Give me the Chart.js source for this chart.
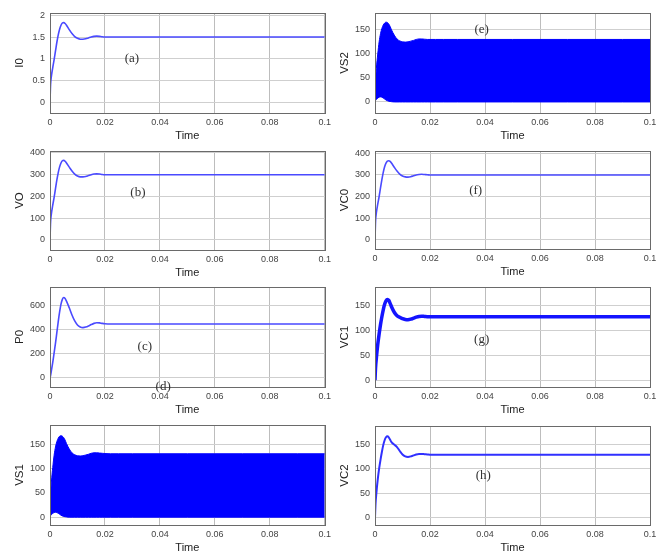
<!DOCTYPE html>
<html>
<head>
<meta charset="utf-8">
<script src="https://cdn.jsdelivr.net/npm/chart.js@4.4.1/dist/chart.umd.min.js"></script>
<style>
  body { margin: 0; background: #fff; }
  #wrap { position: relative; width: 665px; height: 552px; overflow: hidden; background: #fff; }
  #wrap canvas { position: absolute; }
</style>
</head>
<body>
<div id="wrap"></div>
<script>
// simulation time base (s)
const time = [0, 0.0002, 0.0005, 0.001, 0.0015, 0.002, 0.0025, 0.003, 0.0035, 0.004,
  0.0045, 0.005, 0.0055, 0.006, 0.007, 0.008, 0.009, 0.010, 0.011, 0.012,
  0.013, 0.014, 0.015, 0.016, 0.017, 0.018, 0.019, 0.020, 0.022, 0.025,
  0.03, 0.04, 0.05, 0.06, 0.07, 0.08, 0.09, 0.1];
const xTicks = [0, 0.02, 0.04, 0.06, 0.08, 0.1];

// (a) output current
const i0 = [0, 0.40, 0.60, 0.80, 0.98, 1.18, 1.38, 1.55, 1.68, 1.77,
  1.82, 1.83, 1.81, 1.77, 1.67, 1.58, 1.51, 1.47, 1.45, 1.45,
  1.46, 1.48, 1.50, 1.515, 1.52, 1.515, 1.505, 1.50, 1.50, 1.50,
  1.50, 1.50, 1.50, 1.50, 1.50, 1.50, 1.50, 1.50];
// (b) output voltage
const vo = [0, 80, 120, 160, 196, 236, 276, 310, 336, 354,
  364, 366, 362, 354, 335, 317, 303, 294, 290, 290,
  292, 296, 300, 303, 304, 303, 301, 300, 300, 300,
  300, 300, 300, 300, 300, 300, 300, 300];
// (c) output power
const p0 = [0, 20, 60, 130, 210, 290, 380, 470, 550, 615,
  655, 670, 662, 640, 585, 525, 475, 442, 425, 420,
  424, 433, 445, 455, 460, 459, 455, 452, 450, 450,
  450, 450, 450, 450, 450, 450, 450, 450];
// (d) switch 1 voltage envelope
const vs1Top = [25, 45, 72, 102, 127, 144, 155, 162, 166, 167,
  166, 163, 158, 151, 140, 132, 128, 126, 125.5, 126,
  127.5, 129, 131, 132, 132, 131.5, 131, 130.5, 130, 130,
  130, 130, 130, 130, 130, 130, 130, 130];
const vs1Bot = [0, 3, 5, 8, 9.5, 10, 9.5, 8, 6, 4,
  2.5, 1.5, 1, 0.5, 0, 0, 0, 0, 0, 0,
  0, 0, 0, 0, 0, 0, 0, 0, 0, 0,
  0, 0, 0, 0, 0, 0, 0, 0];
// (e) switch 2 voltage envelope
const vs2Top = [25, 42, 70, 100, 125, 142, 153, 160, 164, 166,
  165, 162, 157, 150, 139, 131, 127, 125, 124.5, 125,
  126.5, 128, 130, 131, 131, 130.5, 130, 130, 130, 130,
  130, 130, 130, 130, 130, 130, 130, 130];
const vs2Bot = [0, 3, 5, 8, 10, 10.5, 10, 8, 6, 4,
  2.5, 1.5, 1, 0.5, 0, 0, 0, 0, 0, 0,
  0, 0, 0, 0, 0, 0, 0, 0, 0, 0,
  0, 0, 0, 0, 0, 0, 0, 0];
// (f) output capacitor voltage
const vc0 = [0, 85, 125, 165, 200, 240, 278, 312, 338, 355,
  364, 366, 363, 355, 336, 318, 304, 295, 291, 290,
  292, 296, 300, 302, 303, 302, 301, 300, 300, 300,
  300, 300, 300, 300, 300, 300, 300, 300];
// (g) capacitor 1 voltage
const vc1 = [0, 25, 45, 72, 93, 112, 128, 142, 153, 160,
  163, 161, 155, 148, 137, 130, 127, 124, 122.5, 122,
  123, 125, 127, 128.5, 129, 128.5, 128, 128, 128, 128,
  128, 128, 128, 128, 128, 128, 128, 128];
// (h) capacitor 2 voltage
const vc2 = [0, 28, 50, 78, 100, 118, 134, 148, 158, 164,
  166, 164, 159, 154, 149, 144, 136, 129, 125, 124,
  125, 127, 129, 130, 130, 129.5, 129, 128.5, 128.5, 128.5,
  128.5, 128.5, 128.5, 128.5, 128.5, 128.5, 128.5, 128.5];

const yTicksI0 = [0, 0.5, 1, 1.5, 2];
const yTicksV400 = [0, 100, 200, 300, 400];
const yTicksP0 = [0, 200, 400, 600];
const yTicks150 = [0, 50, 100, 150];

function pts(ys) {
  return time.map((t, i) => ({ x: t, y: ys[i] }));
}

function lineSet(ys, color, width) {
  return {
    data: pts(ys), borderColor: color, borderWidth: width, pointRadius: 0,
    cubicInterpolationMode: 'monotone', fill: false
  };
}

function bandSets(top, bot) {
  return [
    { data: pts(top), borderColor: '#0000ff', backgroundColor: '#0000ff', borderWidth: 1,
      pointRadius: 0, cubicInterpolationMode: 'monotone', fill: '+1' },
    { data: pts(bot), borderColor: '#0000ff', borderWidth: 1, pointRadius: 0,
      cubicInterpolationMode: 'monotone', fill: false }
  ];
}

const panels = [
  { col: 0, top: 13, h: 100, title: 'I0', min: -0.24, max: 2.05, ticks: yTicksI0,
    sets: [lineSet(i0, '#4a4aff', 1.6)], tags: [{ t: '(a)', x: 0.0298, y: 1.0 }] },
  { col: 0, top: 151, h: 99, title: 'VO', min: -46, max: 409, ticks: yTicksV400,
    sets: [lineSet(vo, '#4a4aff', 1.6)], tags: [{ t: '(b)', x: 0.032, y: 220 }] },
  { col: 0, top: 287, h: 100, title: 'P0', min: -75, max: 758, ticks: yTicksP0,
    sets: [lineSet(p0, '#4a4aff', 1.6)],
    tags: [{ t: '(c)', x: 0.0345, y: 258 }, { t: '(d)', x: 0.0412, y: -72 }] },
  { col: 0, top: 425, h: 100, title: 'VS1', min: -16, max: 189, ticks: yTicks150,
    sets: bandSets(vs1Top, vs1Bot), tags: [] },
  { col: 1, top: 13, h: 100, title: 'VS2', min: -23, max: 185, ticks: yTicks150,
    sets: bandSets(vs2Top, vs2Bot), tags: [{ t: '(e)', x: 0.0388, y: 150 }] },
  { col: 1, top: 151, h: 98, title: 'VC0', min: -43, max: 411, ticks: yTicksV400,
    sets: [lineSet(vc0, '#4a4aff', 1.6)], tags: [{ t: '(f)', x: 0.0366, y: 227 }] },
  { col: 1, top: 287, h: 100, title: 'VC1', min: -14, max: 188, ticks: yTicks150,
    sets: [lineSet(vc1, '#1414ff', 3.5)], tags: [{ t: '(g)', x: 0.0388, y: 82 }] },
  { col: 1, top: 426, h: 99, title: 'VC2', min: -15, max: 187, ticks: yTicks150,
    sets: [lineSet(vc2, '#3030ff', 2)], tags: [{ t: '(h)', x: 0.0394, y: 86 }] }
];

// matlab-style full box around the plot area
const boxPlugin = {
  id: 'box',
  afterDatasetsDraw(chart) {
    const a = chart.chartArea, ctx = chart.ctx;
    ctx.save();
    ctx.strokeStyle = '#6a6a6a';
    ctx.lineWidth = 1;
    ctx.strokeRect(Math.round(a.left) + 0.5, Math.round(a.top) + 0.5,
      Math.round(a.right - a.left), Math.round(a.bottom - a.top));
    ctx.restore();
  }
};

// panel letters placed at data coordinates
const tagPlugin = {
  id: 'tags',
  afterDraw(chart, args, opts) {
    const ctx = chart.ctx;
    ctx.save();
    ctx.font = '13px "Liberation Serif", "DejaVu Serif", serif';
    ctx.fillStyle = '#333';
    ctx.textAlign = 'center';
    ctx.textBaseline = 'middle';
    (opts.items || []).forEach(tag => {
      ctx.fillText(tag.t, chart.scales.x.getPixelForValue(tag.x), chart.scales.y.getPixelForValue(tag.y));
    });
    ctx.restore();
  }
};

const wrap = document.getElementById('wrap');
const sans = '"Liberation Sans", Arial, sans-serif';

panels.forEach(p => {
  const padTop = 13, xh = 32;
  const canvas = document.createElement('canvas');
  const left = p.col === 0 ? 0 : 330;
  const yw = p.col === 0 ? 50 : 45;
  const padRight = p.col === 0 ? 10 : 15;
  canvas.width = 335;
  canvas.height = padTop + p.h + xh;
  canvas.style.left = left + 'px';
  canvas.style.top = (p.top - padTop) + 'px';
  wrap.appendChild(canvas);

  new Chart(canvas.getContext('2d'), {
    type: 'line',
    data: { datasets: p.sets },
    plugins: [boxPlugin, tagPlugin],
    options: {
      responsive: false,
      animation: false,
      devicePixelRatio: 1,
      layout: { padding: { top: padTop, right: padRight, left: 0, bottom: 0 } },
      plugins: {
        legend: { display: false },
        tooltip: { enabled: false },
        tags: { items: p.tags }
      },
      scales: {
        x: {
          type: 'linear', min: 0, max: 0.1,
          afterBuildTicks: s => { s.ticks = xTicks.map(v => ({ value: v })); },
          afterFit: s => { s.height = xh; },
          ticks: { font: { size: 9, family: sans }, color: '#444', padding: 4, maxRotation: 0,
                   callback: v => String(v) },
          grid: { color: '#bdbdbd', drawTicks: false },
          border: { display: true, color: '#6a6a6a' },
          title: { display: true, text: 'Time', font: { size: 11, family: sans }, color: '#222',
                   padding: { top: 0, bottom: 2 } }
        },
        y: {
          type: 'linear', min: p.min, max: p.max,
          afterBuildTicks: s => { s.ticks = p.ticks.map(v => ({ value: v })); },
          afterFit: s => { s.width = yw; },
          ticks: { font: { size: 9, family: sans }, color: '#444', padding: 5,
                   callback: v => String(v) },
          grid: { color: '#cfcfcf', drawTicks: false },
          border: { display: true, color: '#6a6a6a' },
          title: { display: true, text: p.title, font: { size: 11.5, family: sans }, color: '#222',
                   padding: { top: p.col === 0 ? 13 : 8, bottom: 0 } }
        }
      }
    }
  });
});
</script>
</body>
</html>
